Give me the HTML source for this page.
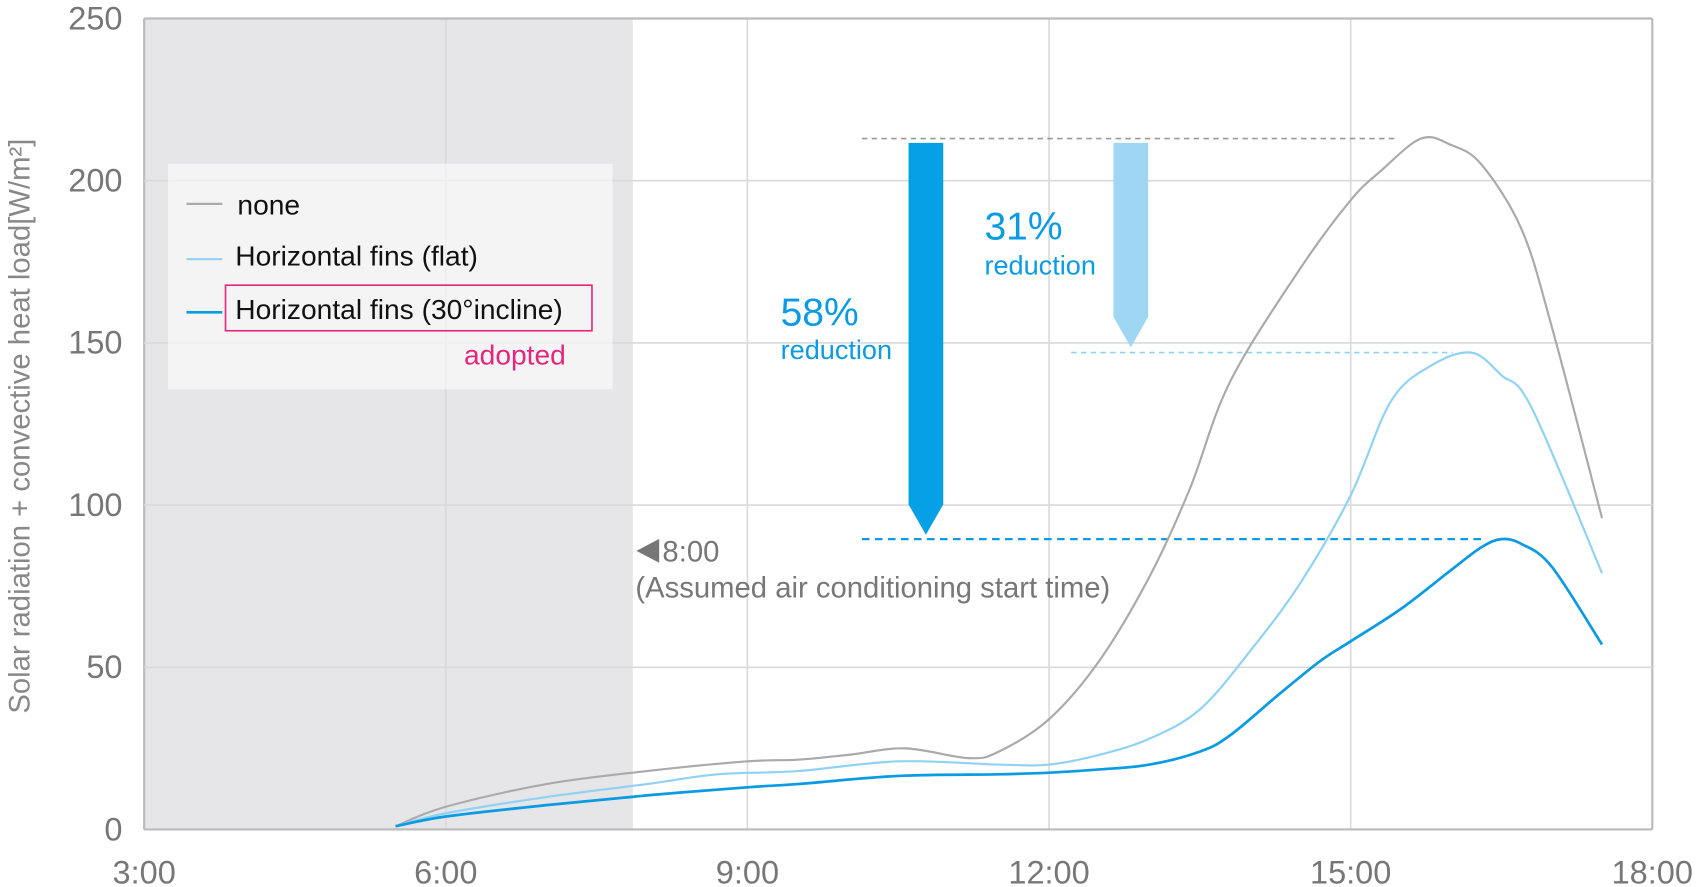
<!DOCTYPE html>
<html><head><meta charset="utf-8"><style>
html,body{margin:0;padding:0;background:#fff;}
svg{display:block;font-family:"Liberation Sans",sans-serif;}
</style></head><body>
<svg id="chart" width="1700" height="887" viewBox="0 0 1568 818" xmlns="http://www.w3.org/2000/svg">
<g id="bg"></g>
<g id="grid"></g>
<g id="xt"></g>
<g id="yt"></g>
<text transform="translate(27,393) rotate(-90)" text-anchor="middle" font-size="27" fill="#888">Solar radiation + convective heat load[W/m²]</text>
<g id="ann"></g>
<g id="series"></g>
<g>
 <rect x="155" y="151" width="410" height="208" fill="rgba(255,255,255,0.55)"/>
 <line x1="172" y1="188" x2="205" y2="188" stroke="#aaa" stroke-width="2"/>
 <text x="219" y="198" font-size="26" fill="#111">none</text>
 <line x1="172" y1="239" x2="205" y2="239" stroke="#8fd2f4" stroke-width="2"/>
 <text x="217" y="245" font-size="26" fill="#111">Horizontal fins (flat)</text>
 <line x1="172" y1="288" x2="205" y2="288" stroke="#0a9be2" stroke-width="2.5"/>
 <rect x="208" y="263" width="338" height="42" fill="none" stroke="#e4267d" stroke-width="1.5"/>
 <text x="217" y="294" font-size="26" fill="#111">Horizontal fins (30°incline)</text>
 <text x="428" y="336" font-size="26" fill="#e4267d">adopted</text>
</g>
</svg>
<script>
const xTicks=[3,6,9,12,15,18];
const xTickLabels=["3:00","6:00","9:00","12:00","15:00","18:00"];
const yTicks=[0,50,100,150,200,250];
const hours=[5.5,6,7,8,9,9.5,10,10.57,11.2,11.5,12,12.5,13,13.4,13.8,14.5,15,15.3,15.7,16,16.3,16.7,17,17.5];
const noneVals=[1,7,14,18,21,21.5,23,25,22,24,34,52,78,105,138,173,194,203,213,211,205,185,155,96];
const flatHours=[5.5,6,7,8,8.7,9.5,10.5,11.5,12,12.5,13,13.5,14,14.5,15,15.4,15.8,16.2,16.5,16.8,17.5];
const flatVals=[1,5,10,14,17,18,21,20,20,23,28,37,55,76,103,132,143,147,140,130,79];
const inclHours=[5.5,6,7,8,9,9.5,10.5,11.5,12,12.5,13,13.5,13.8,14.3,14.7,15,15.5,16,16.3,16.5,16.7,17,17.5];
const inclVals=[1,4,7.5,10.5,13,14,16.5,17,17.5,18.5,20,24,29,42,52,58,68,80,87,89.5,88,81,57];
const shadeEnd=7.86;
const peakNone=213, peakFlat=147, peakIncl=89.5;

const X=h=>133+(h-3)*(1524-133)/15;
const Y=v=>765-v*(765-17)/250;
const NS="http://www.w3.org/2000/svg";
function mk(tag,parent,attrs){const e=document.createElementNS(NS,tag);for(const k in attrs)e.setAttribute(k,attrs[k]);document.getElementById(parent).appendChild(e);return e;}

let r=mk('rect','bg',{x:X(3),y:Y(250),width:X(18)-X(3),height:Y(0)-Y(250),fill:'#fff'});


r=mk('rect','bg',{x:X(3),y:Y(250),width:X(shadeEnd)-X(3),height:Y(0)-Y(250),fill:'#e6e6e8'});



xTicks.forEach((t,i)=>{
 let l=mk('line','grid',{x1:X(t),x2:X(t),y1:Y(0),y2:Y(250),stroke:(i==0||i==5)?'#bbb':'#dadada','stroke-width':(i==0||i==5)?2:1.5});
 
 
 let tx=mk('text','xt',{x:X(t),y:815,'text-anchor':'middle','font-size':30,fill:'#777'});
 tx.textContent=xTickLabels[i];
 
 
});
yTicks.forEach(t=>{
 let l=mk('line','grid',{x1:X(3),x2:X(18),y1:Y(t),y2:Y(t),stroke:(t==0||t==250)?'#bbb':'#dadada','stroke-width':(t==0||t==250)?2:1.5});
 
 
 let tx=mk('text','yt',{x:113,y:Y(t)+10,'text-anchor':'end','font-size':30,fill:'#777'});
 tx.textContent=String(t);
 
 
});

function smooth(xs,vs){
 const p=xs.map((h,i)=>[X(h),Y(vs[i])]);
 let d='M'+p[0][0]+','+p[0][1];
 for(let i=0;i<p.length-1;i++){
  const p0=p[Math.max(0,i-1)],p1=p[i],p2=p[i+1],p3=p[Math.min(p.length-1,i+2)];
  const c1=[p1[0]+(p2[0]-p0[0])/6,p1[1]+(p2[1]-p0[1])/6];
  const c2=[p2[0]-(p3[0]-p1[0])/6,p2[1]-(p3[1]-p1[1])/6];
  d+=' C'+c1[0]+','+c1[1]+' '+c2[0]+','+c2[1]+' '+p2[0]+','+p2[1];
 }
 return d;
}
let s=mk('path','series',{d:smooth(hours,noneVals),fill:'none',stroke:'#aaa','stroke-width':2});


s=mk('path','series',{d:smooth(flatHours,flatVals),fill:'none',stroke:'#8fd2f4','stroke-width':2});


s=mk('path','series',{d:smooth(inclHours,inclVals),fill:'none',stroke:'#0a9be2','stroke-width':2.5});



let a=mk('line','ann',{x1:795,x2:1290,y1:Y(peakNone),y2:Y(peakNone),stroke:'#999','stroke-width':1.5,'stroke-dasharray':'5,4'});


a=mk('line','ann',{x1:988,x2:1340,y1:Y(peakFlat),y2:Y(peakFlat),stroke:'#8fd2f4','stroke-width':1.5,'stroke-dasharray':'5,4'});


a=mk('line','ann',{x1:795,x2:1370,y1:Y(peakIncl),y2:Y(peakIncl),stroke:'#0a9be2','stroke-width':2,'stroke-dasharray':'7,5'});


const yT=Y(peakNone)+4;
a=mk('polygon','ann',{points:`838,${yT} 870,${yT} 870,${Y(peakIncl)-32} 854,${Y(peakIncl)-4} 838,${Y(peakIncl)-32}`,fill:'#06a0e6'});


a=mk('polygon','ann',{points:`1027,${yT} 1059,${yT} 1059,${Y(peakFlat)-33} 1043,${Y(peakFlat)-5} 1027,${Y(peakFlat)-33}`,fill:'#9fd6f4'});


function txt(x,y,sz,fill,str,name){const t=mk('text','ann',{x:x,y:y,'font-size':sz,fill:fill});t.textContent=str;return t;}
txt(720,300,36,'#0a9be2','58%','label-58-percent');
txt(720,331,25,'#0a9be2','reduction','label-58-reduction');
txt(908,221,36,'#0a9be2','31%','label-31-percent');
txt(908,253,25,'#0a9be2','reduction','label-31-reduction');
a=mk('polygon','ann',{points:'587,508 608,497 608,519',fill:'#777'});


txt(611,518,27,'#777','8:00','ac-start-time');
txt(586,551,27,'#777','(Assumed air conditioning start time)','ac-start-caption');
</script>
</body></html>
